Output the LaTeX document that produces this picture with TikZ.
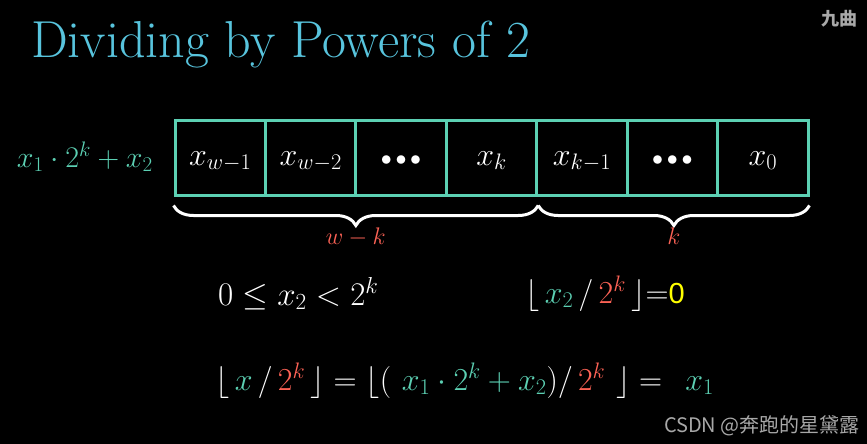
\RequirePackage{fix-cm}
\documentclass[tikz,border=0pt]{standalone}
\usepackage{fontspec}
\usepackage{amsmath}
\usetikzlibrary{positioning, calc, decorations.pathreplacing}
\newfontfamily\cjk{Noto Sans CJK SC}
\newfontfamily\digitsans{Liberation Sans}
\definecolor{inkblue}{HTML}{58C4DD}
\definecolor{inkteal}{HTML}{5CD0B3}
\definecolor{inkred}{HTML}{FC6255}
\definecolor{inkyellow}{HTML}{FFFF00}
\definecolor{inkmark}{HTML}{A8A8A8}
\newcommand{\tl}[1]{{\color{inkteal}#1}}
\newcommand{\rd}[1]{{\color{inkred}#1}}
\newcommand{\dotsx}{\mbox{\fontsize{22}{26}\selectfont${\bullet}\mkern3mu{\bullet}\mkern3mu{\bullet}$}}
\tikzset{
  bitcell/.style={draw=inkteal, line width=3pt, minimum width=90.43pt,
    minimum height=75pt, inner sep=0pt, text=white, text height=20pt,
    text depth=5pt, font=\fontsize{32}{38}\selectfont},
  underbrace/.style={draw=white, line width=3pt, decorate,
    decoration={brace, mirror, amplitude=20pt}},
  bracelabel/.style={text=inkred, inner sep=0pt, anchor=base,
    font=\fontsize{24}{28}\selectfont},
  bigmath/.style={text=white, inner sep=0pt, anchor=base west,
    font=\fontsize{32}{38}\selectfont},
}

\begin{document}
\begin{tikzpicture}[x=1pt, y=1pt]
  \fill[black] (0,0) rectangle (867,-444);
  \useasboundingbox (0,0) rectangle (867,-444);
  \node[anchor=base west, inner sep=0pt, text=inkblue,
    font=\fontsize{52}{62}\selectfont] (title) at (31,-57) {Dividing by Powers of 2};
  % the register, most significant bit first
  \foreach \lab [count=\i from 1] in {x_{w-1}, x_{w-2}, \dotsx, x_k, x_{k-1}, \dotsx, x_0}{%
    \node[bitcell] (cell\i) at (175+90.43*\i-45.215,-157.5) {$\lab$};}
  \node[anchor=base east, inner sep=0pt, text=inkteal,
    font=\fontsize{30}{36}\selectfont] (sumlab) at (153,-167) {$x_1 \cdot 2^k + x_2$};
  \coordinate (brA) at ([yshift=-9pt]cell1.south west);
  \coordinate (brB) at ([yshift=-9pt]cell4.south east);
  \coordinate (brC) at ([yshift=-9pt]cell7.south east);
  \draw[underbrace] (brA) -- (brB);
  \draw[underbrace] (brB) -- (brC);
  \node[bracelabel] (wklab) at ($(brA)!0.5!(brB)+(0,-39)$) {$w-k$};
  \node[bracelabel] (klab) at ($(brB)!0.5!(brC)+(0,-39)$) {$k$};
  \node[bigmath, font=\fontsize{33}{39}\selectfont] (bound) at (218,-305) {$0 \le x_2 < 2^k$};
  \node[bigmath] (lowq) at (525,-303)
    {$\lfloor\, \tl{x_2} \,/\, \rd{2^k} \,\rfloor{=}$\textcolor{inkyellow}{\digitsans\fontsize{29}{34}\selectfont 0}};
  \node[bigmath] (quot) at (215,-390)
    {$\lfloor\, \tl{x} \,/\, \rd{2^k} \,\rfloor = \lfloor (\,\, \tl{x_1 \cdot 2^k + x_2}) / \,\rd{2^k} \,\,\rfloor = \;\, \tl{x_1}$};
  % watermarks
  \node[anchor=base east, inner sep=0pt, text=inkmark,
    font=\cjk\fontsize{20}{24}\selectfont] (mark) at (860,-432) {CSDN @奔跑的星黛露};
  \node[anchor=base west, inner sep=0pt, text=inkmark,
    font=\cjk\bfseries\fontsize{18}{22}\selectfont] (topmark) at (821,-26) {九曲};
\end{tikzpicture}
\end{document}
